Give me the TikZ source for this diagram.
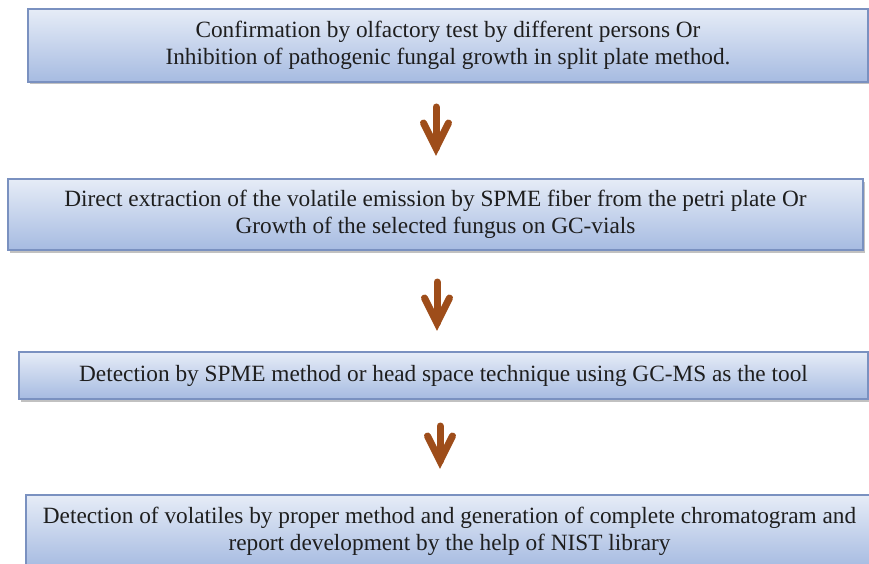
\documentclass[tikz,border=0pt]{standalone}
\usepackage{fontspec}
\setmainfont{Liberation Serif}
\usetikzlibrary{shadows}
\definecolor{boxtop}{HTML}{E6ECF7}
\definecolor{boxbot}{HTML}{A6BBE1}
\definecolor{boxline}{HTML}{7A91C0}
\definecolor{arrbrown}{HTML}{9E4D1A}
\definecolor{txt}{HTML}{1E1E1E}
\tikzset{
  flowbox/.style={draw=boxline, line width=1.4pt, top color=boxtop, bottom color=boxbot,
    align=center, inner sep=0pt, text=txt,
    font=\fontsize{23.3}{27}\selectfont,
    drop shadow={shadow xshift=1.5pt, shadow yshift=-2.5pt, opacity=0.35, fill=black!70}},
  arrline/.style={draw=arrbrown, line width=7pt, line cap=round, line join=miter}
}
\begin{document}
\begin{tikzpicture}[x=1pt,y=-1pt]
\useasboundingbox (0,0) rectangle (869,564);
\node[flowbox, minimum width=840pt, minimum height=73pt] (b1) at (448,45.5)
  {Confirmation by olfactory test by different persons Or\\Inhibition of pathogenic fungal growth in split plate method.};
\node[flowbox, minimum width=855pt, minimum height=71pt] (b2) at (435.5,214.5)
  {Direct extraction of the volatile emission by SPME fiber from the petri plate Or\\Growth of the selected fungus on GC-vials\vphantom{p}};
\node[flowbox, minimum width=849pt, minimum height=47pt] (b3) at (443.5,375.5)
  {Detection by SPME method or head space technique using GC-MS as the tool};
\node[flowbox, minimum width=847pt, minimum height=73pt] (b4) at (449.5,531.5)
  {Detection of volatiles by proper method and generation of complete chromatogram and\\report development by the help of NIST library\vphantom{p}};
% arrows
\coordinate (a1s) at (436,107); \coordinate (a1e) at (436,148);
\coordinate (a2s) at (437,282); \coordinate (a2e) at (437,323);
\coordinate (a3s) at (440,426); \coordinate (a3e) at (440,461);
\foreach \s/\e in {a1s/a1e, a2s/a2e, a3s/a3e}{
  \draw[arrline] (\s) -- (\e);
  \draw[arrline] (\e) ++(-12.5,-25) -- (\e) -- ++(12.5,-25);
}
\end{tikzpicture}
\end{document}
